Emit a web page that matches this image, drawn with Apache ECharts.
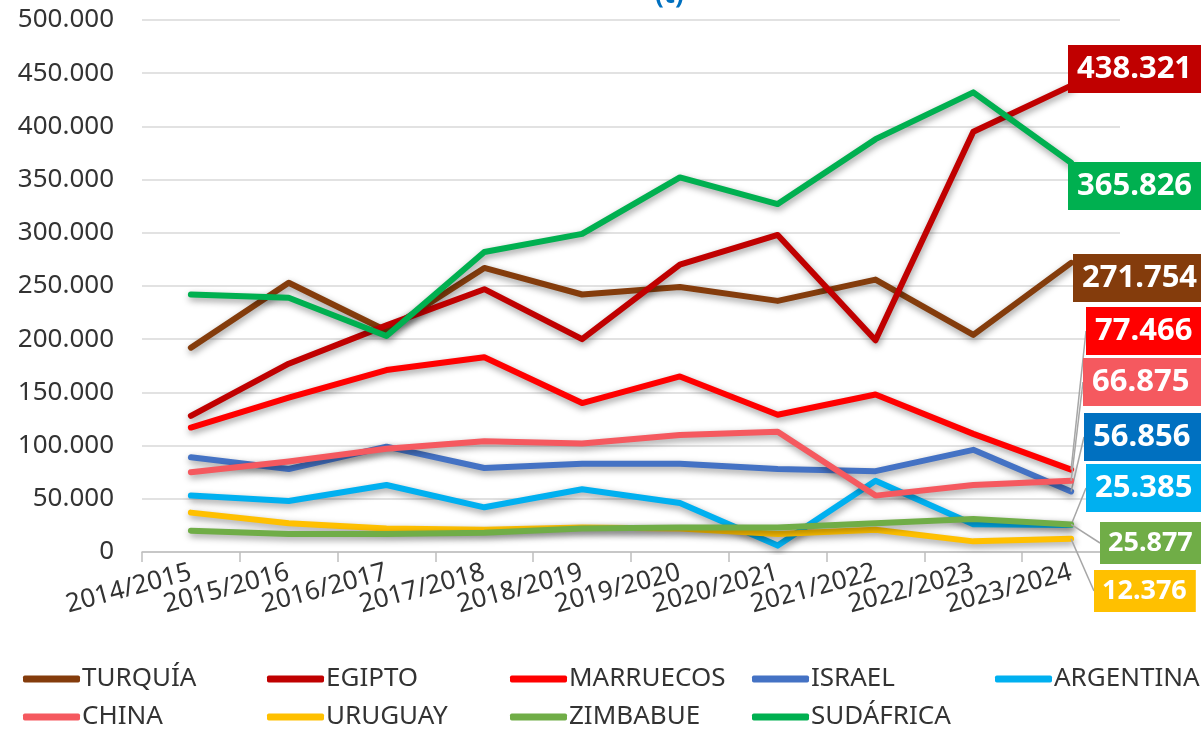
<!DOCTYPE html>
<html>
<head>
<meta charset="utf-8">
<script src="https://cdn.jsdelivr.net/npm/echarts@6/dist/echarts.min.js"></script>
<style>html,body{margin:0;padding:0;background:#fff}#c{width:1201px;height:732px}</style>
</head>
<body>
<div id="c"></div>
<script>
const categories = ['2014/2015','2015/2016','2016/2017','2017/2018','2018/2019','2019/2020','2020/2021','2021/2022','2022/2023','2023/2024'];
const yTicks = [0, 50000, 100000, 150000, 200000, 250000, 300000, 350000, 400000, 450000, 500000];
const seriesNames = ['TURQUÍA','EGIPTO','MARRUECOS','ISRAEL','ARGENTINA','CHINA','URUGUAY','ZIMBABUE','SUDÁFRICA'];
const turquia   = [192000, 253000, 208000, 267000, 242000, 249000, 236000, 256000, 204000, 271754];
const egipto    = [128000, 177000, 213000, 247000, 200000, 270000, 298000, 199000, 395000, 438321];
const marruecos = [117000, 145000, 171000, 183000, 140000, 165000, 129000, 148000, 111000, 77466];
const israel    = [89000, 78000, 99000, 79000, 83000, 83000, 78000, 76000, 96000, 56856];
const argentina = [53000, 48000, 63000, 42000, 59000, 46000, 6000, 67000, 26000, 25385];
const china     = [75000, 85000, 97000, 104000, 102000, 110000, 113000, 53000, 63000, 66875];
const uruguay   = [37000, 27000, 22000, 21000, 23000, 22000, 17000, 21000, 10000, 12376];
const zimbabue  = [20000, 17000, 17000, 18000, 22000, 23000, 23000, 27000, 31000, 25877];
const sudafrica = [242000, 239000, 203000, 282000, 299000, 352000, 327000, 388000, 432000, 365826];

const values = [turquia, egipto, marruecos, israel, argentina, china, uruguay, zimbabue, sudafrica];
const lineColors = ['#843C0C','#C00000','#FF0000','#4472C4','#00B0F0','#F5595F','#FFC000','#70AD47','#00B050'];
const boxColors  = ['#843C0C','#C00000','#FF0000','#0070C0','#00B0F0','#F5595F','#FFC000','#70AD47','#00B050'];
// label box placement (left, top, size class, guide line)
const boxLayout = [
  [1073, 254, 1, false],
  [1068, 45, 1, false],
  [1086, 307, 1, true],
  [1084, 413, 1, true],
  [1086, 464, 1, true],
  [1083, 358, 1, true],
  [1094, 570, 0, true],
  [1100, 522, 0, true],
  [1068, 162, 1, false]
];

function fmt(v){ return String(Math.round(v)).replace(/\B(?=(\d{3})+(?!\d))/g, '.'); }

const FONT = '"Noto Sans", "Open Sans", sans-serif';

const series = seriesNames.map((name, k) => {
  const arr = values[k];
  const L = boxLayout[k];
  const big = L[2] === 1;
  return {
    name: name,
    type: 'line',
    showSymbol: true,
    symbol: 'circle',
    symbolSize: 0,
    z: 2 + k,
    lineStyle: { width: 6, color: lineColors[k], shadowBlur: 7, shadowColor: 'rgba(0,0,0,0.4)', shadowOffsetX: 1, shadowOffsetY: 3, cap: 'round', join: 'round' },
    itemStyle: { color: lineColors[k] },
    emphasis: { disabled: true },
    label: {
      show: false,
      formatter: p => fmt(p.value),
      color: '#fff',
      fontWeight: 'bold',
      fontFamily: FONT,
      fontSize: big ? 31 : 27,
      lineHeight: big ? 37 : 32,
      backgroundColor: boxColors[k],
      padding: big ? [6, 12, 5, 9] : [5, 9, 5, 8]
    },
    labelLine: { show: L[3], lineStyle: { color: '#a6a6a6', width: 1.5 } },
    labelLayout: function () { return { x: L[0], y: L[1], align: 'left', verticalAlign: 'top' }; },
    data: arr.map((v, i) => i === arr.length - 1 ? { value: v, label: { show: true } } : v)
  };
});

// legend grid: order of reference (row-major, 5 columns)
const legendLeft = [23, 267, 510, 752, 995];
const legendTop = [665, 703];
const legends = seriesNames.map((n, i) => ({
  orient: 'horizontal',
  left: legendLeft[i % 5],
  top: legendTop[Math.floor(i / 5)],
  itemWidth: 57,
  itemHeight: 7,
  icon: 'roundRect',
  padding: 0,
  data: [n],
  textStyle: { color: '#333', fontSize: 26, fontFamily: FONT, lineHeight: 28, padding: [0, 0, 0, -3] }
}));

const chart = echarts.init(document.getElementById('c'), null, { renderer: 'canvas' });
chart.setOption({
  animation: false,
  backgroundColor: '#fff',
  title: { text: '(t)', left: 650, top: -22, textStyle: { color: '#0070C0', fontSize: 26, fontWeight: 'bold', fontFamily: FONT } },
  legend: legends,
  grid: { left: 142, right: 81, top: 20, bottom: 180, containLabel: false },
  xAxis: {
    type: 'category',
    data: categories,
    boundaryGap: true,
    axisLine: { lineStyle: { color: '#bfbfbf', width: 1.5 } },
    axisTick: { show: true, length: 10, lineStyle: { color: '#bfbfbf', width: 1.5 } },
    axisLabel: { rotate: 15, interval: 0, margin: 20, color: '#333', fontSize: 26, fontFamily: FONT }
  },
  yAxis: {
    type: 'value',
    min: yTicks[0],
    max: yTicks[yTicks.length - 1],
    interval: yTicks[1] - yTicks[0],
    axisLine: { show: false },
    axisTick: { show: false },
    splitLine: { lineStyle: { color: '#d9d9d9', width: 1.5 } },
    axisLabel: { formatter: v => fmt(v), color: '#333', fontSize: 26, fontFamily: FONT, margin: 28 }
  },
  series: series
});
</script>
</body>
</html>
